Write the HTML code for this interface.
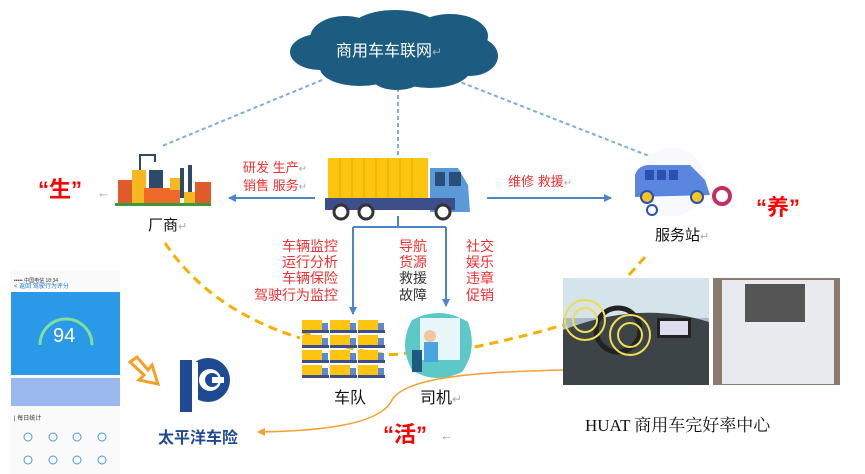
<!DOCTYPE html>
<html><head><meta charset="utf-8"><style>
body{margin:0;background:#fff;}
svg{display:block;font-family:"Liberation Sans","Noto Sans CJK SC",sans-serif;}
</style></head><body>
<svg width="865" height="474" viewBox="0 0 865 474" xmlns="http://www.w3.org/2000/svg">
<defs>
<marker id="ab" markerWidth="8" markerHeight="8" refX="7" refY="4" orient="auto" markerUnits="userSpaceOnUse"><path d="M0,0 L8,4 L0,8 z" fill="#4a86c8"/></marker>
<marker id="ao" markerWidth="8" markerHeight="8" refX="7" refY="4" orient="auto" markerUnits="userSpaceOnUse"><path d="M0,0 L8,4 L0,8 z" fill="#f5a030"/></marker>
<g id="tr"><rect x="0" y="0" width="20" height="10" fill="#fdc510"/><rect x="20" y="3" width="6" height="7" fill="#5b8ad0"/><rect x="0" y="10" width="27" height="3" fill="#3d4e8a"/></g>
</defs>
<g stroke="#7aaee0" stroke-width="2" stroke-dasharray="4,3" fill="none">
<line x1="322" y1="80" x2="162" y2="146"/>
<line x1="398" y1="88" x2="398" y2="158"/>
<line x1="455" y1="80" x2="672" y2="165"/>
</g>
<g fill="#1b5c80">
<ellipse cx="395" cy="50" rx="92" ry="28"/>
<ellipse cx="345" cy="38" rx="35" ry="22"/>
<ellipse cx="395" cy="30" rx="45" ry="20"/>
<ellipse cx="450" cy="36" rx="38" ry="22"/>
<ellipse cx="320" cy="52" rx="30" ry="18"/>
<ellipse cx="470" cy="56" rx="28" ry="20"/>
<ellipse cx="360" cy="68" rx="40" ry="18"/>
<ellipse cx="430" cy="70" rx="40" ry="18"/>
<ellipse cx="397" cy="78" rx="25" ry="12"/>
</g>
<text x="336" y="56" fill="#fff" font-size="16">商用车车联网<tspan fill="#9ab" font-size="12">↵</tspan></text>
<rect x="328" y="158" width="100" height="42" fill="#fdc510"/>
<g stroke="#e8a800" stroke-width="1"><line x1="340" y1="158" x2="340" y2="200"/><line x1="352" y1="158" x2="352" y2="200"/><line x1="364" y1="158" x2="364" y2="200"/><line x1="376" y1="158" x2="376" y2="200"/><line x1="388" y1="158" x2="388" y2="200"/><line x1="400" y1="158" x2="400" y2="200"/><line x1="412" y1="158" x2="412" y2="200"/></g>
<path d="M430,168 L458,168 L468,185 L470,212 L430,212 z" fill="#5b9ad8"/>
<rect x="435" y="172" width="10" height="14" fill="#2a4e7a"/><rect x="449" y="172" width="12" height="14" fill="#2a4e7a"/>
<rect x="325" y="198" width="130" height="12" fill="#3d4e8a"/>
<g fill="#fff" stroke="#333" stroke-width="3"><circle cx="341" cy="212" r="7"/><circle cx="366" cy="212" r="7"/><circle cx="443" cy="212" r="7"/></g>
<g stroke="#4a86c8" stroke-width="2" fill="none">
<line x1="315" y1="198" x2="229" y2="198" marker-end="url(#ab)"/>
<line x1="487" y1="198" x2="611" y2="198" marker-end="url(#ab)"/>
<polyline points="398,216 398,227"/>
<line x1="353" y1="227" x2="446" y2="227"/>
<line x1="353" y1="227" x2="353" y2="314" marker-end="url(#ab)"/>
<line x1="446" y1="227" x2="446" y2="306" marker-end="url(#ab)"/>
</g>
<g font-size="13" fill="#f03030">
<text x="243" y="172">研发  生产<tspan fill="#aaa" font-size="10">↵</tspan></text>
<text x="243" y="190">销售  服务<tspan fill="#aaa" font-size="10">↵</tspan></text>
<text x="508" y="186">维修  救援<tspan fill="#aaa" font-size="10">↵</tspan></text>
</g>
<g font-size="14" fill="#f03030" text-anchor="end">
<text x="338" y="251">车辆监控</text><text x="338" y="267">运行分析</text><text x="338" y="283">车辆保险</text><text x="338" y="300">驾驶行为监控</text>
</g>
<g font-size="14">
<text x="399" y="251" fill="#f03030">导航</text><text x="399" y="267" fill="#f03030">货源</text><text x="399" y="283" fill="#333">救援</text><text x="399" y="300" fill="#333">故障</text>
<text x="466" y="251" fill="#f03030">社交</text><text x="466" y="267" fill="#f03030">娱乐</text><text x="466" y="283" fill="#f03030">违章</text><text x="466" y="300" fill="#f03030">促销</text>
</g>
<rect x="118" y="180" width="18" height="24" fill="#e05a2a"/>
<rect x="132" y="170" width="14" height="34" fill="#f5b820"/>
<rect x="149" y="170" width="14" height="25" fill="#2e4a6a"/>
<rect x="144" y="188" width="36" height="16" fill="#ef6a2a"/>
<rect x="170" y="178" width="12" height="12" fill="#f5b820"/>
<rect x="180" y="168" width="4" height="30" fill="#2e4a6a"/><rect x="188" y="165" width="4" height="33" fill="#2e4a6a"/>
<rect x="184" y="192" width="14" height="12" fill="#f5b820"/>
<rect x="195" y="182" width="16" height="22" fill="#e05a2a"/>
<path d="M140,170 V155 H155 V162" stroke="#2e4a6a" stroke-width="2" fill="none"/>
<rect x="115" y="203" width="96" height="3" fill="#3a9a3a"/>
<text x="148" y="230" font-size="15" fill="#111">厂商<tspan fill="#aaa" font-size="11">↵</tspan></text>
<text x="38" y="197" font-size="22" fill="#f00" font-weight="bold">“生”</text>
<text x="97" y="197" font-size="13" fill="#999">←</text>
<circle cx="672" cy="182" r="34" fill="#f7f9fd"/>
<path d="M635,175 Q638,165 650,165 L690,165 L705,180 L710,195 L635,197 z" fill="#5b86e0"/>
<rect x="645" y="170" width="9" height="10" fill="#2a50b0"/><rect x="657" y="170" width="9" height="10" fill="#2a50b0"/><rect x="669" y="170" width="9" height="10" fill="#2a50b0"/>
<g fill="#f5c520" stroke="#2a50b0" stroke-width="2"><circle cx="647" cy="197" r="6"/><circle cx="697" cy="197" r="6"/></g>
<circle cx="722" cy="196" r="8" fill="none" stroke="#c03060" stroke-width="4"/>
<circle cx="652" cy="210" r="5" fill="none" stroke="#2a50b0" stroke-width="2"/>
<text x="655" y="240" font-size="15" fill="#111">服务站<tspan fill="#aaa" font-size="11">↵</tspan></text>
<text x="756" y="215" font-size="22" fill="#f00" font-weight="bold">“养”</text>
<g stroke="#f5b000" stroke-width="3" stroke-dasharray="9,6" fill="none">
<path d="M165,243 Q210,310 300,338"/>
<path d="M302,332 Q380,362 410,352"/>
<path d="M460,350 Q520,338 563,325"/>
<path d="M645,257 L620,285"/>
</g>
<use href="#tr" x="302" y="320"/><use href="#tr" x="330" y="320"/><use href="#tr" x="358" y="320"/>
<use href="#tr" x="302" y="335"/><use href="#tr" x="330" y="335"/><use href="#tr" x="358" y="335"/>
<use href="#tr" x="302" y="350"/><use href="#tr" x="330" y="350"/><use href="#tr" x="358" y="350"/>
<use href="#tr" x="302" y="365"/><use href="#tr" x="330" y="365"/><use href="#tr" x="358" y="365"/>
<text x="334" y="403" font-size="16" fill="#111">车队</text>
<path d="M412,320 Q440,305 468,322 Q478,350 462,372 Q435,385 412,370 Q398,345 412,320z" fill="#5cc8c8"/>
<rect x="420" y="318" width="40" height="42" fill="#e8f6fa"/>
<circle cx="430" cy="336" r="6" fill="#f2c4a0"/>
<rect x="424" y="342" width="14" height="20" fill="#4aa6e0"/>
<rect x="412" y="350" width="10" height="22" fill="#1e5a80"/>
<text x="420" y="403" font-size="16" fill="#111">司机<tspan fill="#aaa" font-size="12">↵</tspan></text>
<rect x="563" y="278" width="146" height="107" fill="#a9bcc4"/>
<rect x="563" y="278" width="146" height="40" fill="#d4e4ea"/>
<path d="M563,330 Q640,300 709,322 L709,385 L563,385z" fill="#3c4448"/>
<rect x="657" y="318" width="34" height="20" fill="#222"/><rect x="660" y="321" width="28" height="14" fill="#dde"/>
<circle cx="618" cy="330" r="22" fill="none" stroke="#222" stroke-width="5"/>
<g fill="none" stroke="#f0dc50" stroke-width="2"><circle cx="585" cy="320" r="12"/><circle cx="585" cy="320" r="20"/><circle cx="630" cy="335" r="12"/><circle cx="630" cy="335" r="20"/></g>
<rect x="713" y="278" width="127" height="107" fill="#8a7a70"/>
<rect x="722" y="280" width="112" height="104" fill="#e8eaee"/>
<rect x="745" y="284" width="60" height="38" fill="#555"/>
<text x="585" y="431" font-size="17" fill="#111" font-family="Liberation Serif,Noto Serif CJK SC,serif">HUAT 商用车完好率中心</text>
<path d="M563,370 C470,372 405,378 392,400 C380,425 320,431 258,432" stroke="#f5a030" stroke-width="1.5" fill="none" marker-end="url(#ao)"/>
<text x="383" y="442" font-size="22" fill="#f00" font-weight="bold">“活”</text>
<text x="440" y="440" font-size="13" fill="#999">←</text>
<rect x="10" y="270" width="110" height="204" fill="#fafafa"/>
<rect x="11" y="292" width="109" height="83" fill="#2a9ae8"/>
<path d="M40,345 A26,26 0 1 1 92,345" stroke="#7ee09a" stroke-width="3" fill="none"/>
<text x="53" y="342" font-size="20" fill="#fff">94</text>
<rect x="11" y="378" width="109" height="28" fill="#9ab8ee"/>
<text x="14" y="282" font-size="5" fill="#333">••••• 中国电信    18:34</text>
<text x="14" y="288" font-size="6" fill="#1a7ad8">&lt; 返回      驾驶行为评分</text>
<text x="14" y="420" font-size="6" fill="#333">| 每日统计</text>
<g fill="none" stroke="#4a9ad8"><circle cx="28" cy="437" r="4"/><circle cx="53" cy="437" r="4"/><circle cx="77" cy="437" r="4"/><circle cx="102" cy="437" r="4"/><circle cx="28" cy="460" r="4"/><circle cx="53" cy="460" r="4"/><circle cx="77" cy="460" r="4"/><circle cx="102" cy="460" r="4"/></g>
<path d="M130,362 L137,357 L148,370 L152,365 L158,384 L139,380 L144,375 z" fill="#fff" stroke="#f5a020" stroke-width="3"/>
<circle cx="208" cy="380" r="22" fill="#1e4a94"/>
<rect x="180" y="360" width="12" height="52" fill="#1e4a94"/>
<rect x="192" y="362" width="6" height="50" fill="#fff"/>
<circle cx="210" cy="380" r="11" fill="#fff"/>
<circle cx="212" cy="380" r="7" fill="#1e4a94"/>
<rect x="212" y="377" width="12" height="6" fill="#fff"/>
<text x="158" y="443" font-size="16" font-weight="bold" fill="#1e4a94">太平洋车险</text>
</svg>
</body></html>
